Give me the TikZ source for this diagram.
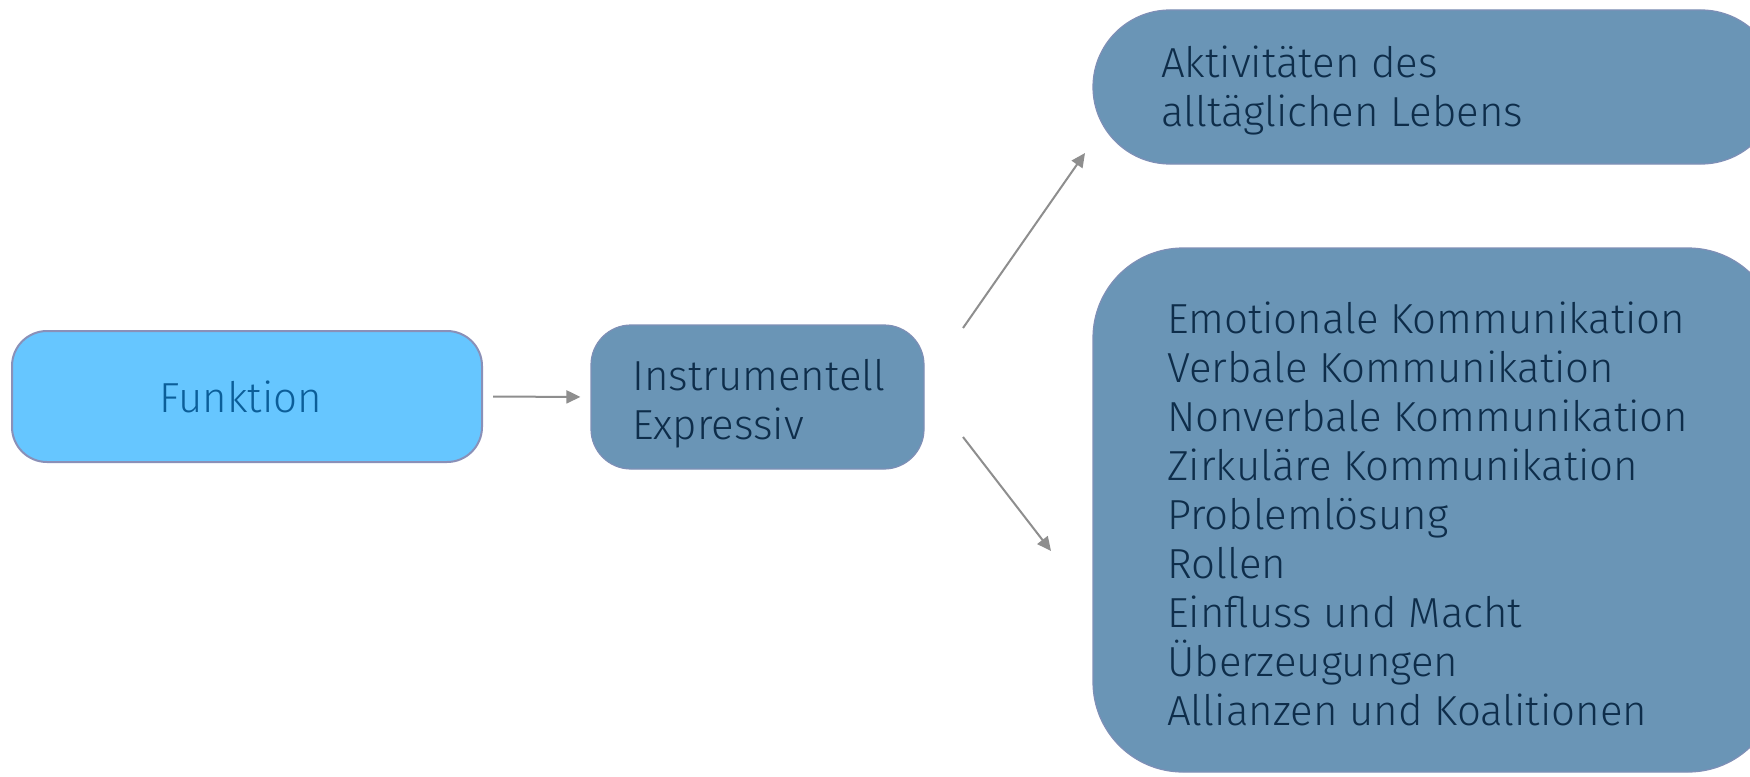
\documentclass[tikz,border=0pt]{standalone}
\usepackage{fontspec}
\setmainfont{Fira Sans Light}
\usetikzlibrary{arrows.meta}
\definecolor{skyfill}{HTML}{66C6FF}
\definecolor{skyline}{HTML}{8A90B8}
\definecolor{skytext}{HTML}{0B5E99}
\definecolor{steelfill}{HTML}{6A95B6}
\definecolor{steelline}{HTML}{7E8FB6}
\definecolor{navytext}{HTML}{0E2D4A}
\definecolor{arrowgray}{HTML}{8E8E8E}
\tikzset{
  box/.style={draw=steelline, line width=1.2pt, fill=steelfill, rectangle, inner sep=0pt},
  mainbox/.style={draw=skyline, line width=2pt, fill=skyfill, rectangle, inner sep=0pt},
  label/.style={font=\fontsize{42}{49}\selectfont, text=navytext, align=left, inner sep=0pt},
  conn/.style={draw=arrowgray, line width=2pt, -{Triangle[length=14pt,width=13pt]}}
}
\begin{document}
\begin{tikzpicture}[x=1pt,y=-1pt]
  \clip (0,0) rectangle (1750,776);
  \fill[white] (0,0) rectangle (1750,776);

  % boxes
  \node[mainbox, rounded corners=35pt, minimum width=470pt, minimum height=131pt] (funk) at (247,396.5) {};
  \node[box, rounded corners=40pt, minimum width=333pt, minimum height=144pt] (inst) at (757.5,397) {};
  \node[box, rounded corners=77pt, minimum width=685pt, minimum height=154pt] (adl) at (1435.5,87) {};
  \node[box, rounded corners=90pt, minimum width=685pt, minimum height=524pt] (list) at (1435.5,510) {};

  % texts (multi-line nodes are placed by the baseline of their last line)
  \node[label, text=skytext, anchor=base] (tfunk) at (241,412) {Funktion};
  \node[label, anchor=base west] (tinst) at (632,439) {Instrumentell\\Expressiv};
  \node[label, anchor=base west] (tadl) at (1161,126) {Aktivitäten des\\alltäglichen Lebens};
  \node[label, anchor=base west] (tlist) at (1167,725) {Emotionale Kommunikation\\Verbale Kommunikation\\Nonverbale Kommunikation\\Zirkuläre Kommunikation\\Problemlösung\\Rollen\\Einfluss und Macht\\Überzeugungen\\Allianzen und Koalitionen};

  % connector end points
  \coordinate (upS) at (963,328);
  \coordinate (upE) at (1085,153);
  \coordinate (dnS) at (963,437);
  \coordinate (dnE) at (1051,551);

  % connectors
  \draw[conn, shorten <=10pt, shorten >=10pt] (funk.east) -- (inst.west);
  \draw[conn] (upS) -- (upE);
  \draw[conn] (dnS) -- (dnE);
\end{tikzpicture}
\end{document}
